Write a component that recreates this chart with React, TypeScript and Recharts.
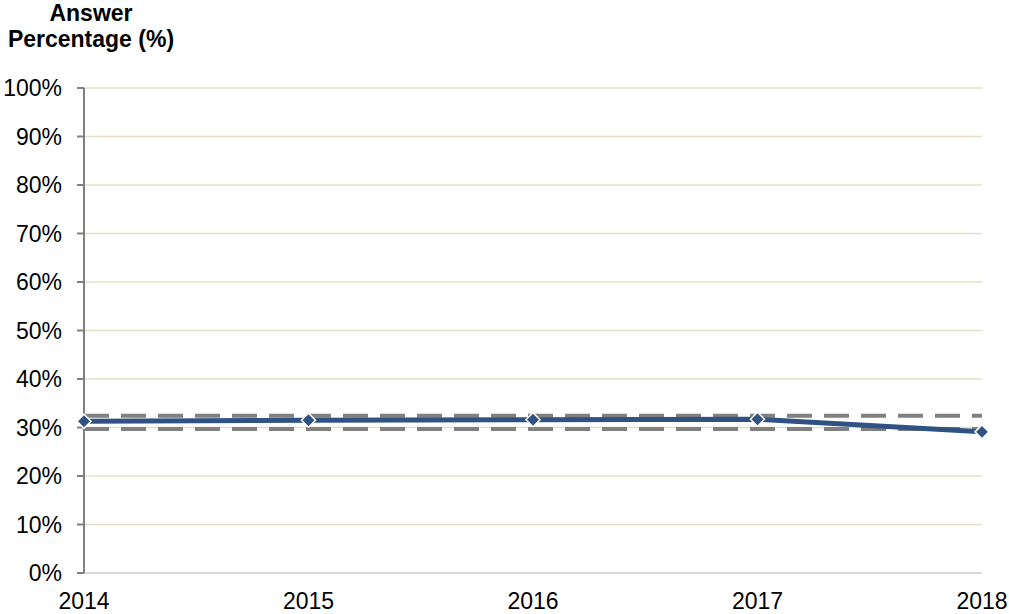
import React from 'react';
import { LineChart, Line, XAxis, YAxis, CartesianGrid } from 'recharts';

const years = ['2014', '2015', '2016', '2017', '2018'];
const answerPct = [31.3, 31.5, 31.6, 31.7, 29.1];
const upperBound = [32.4, 32.4, 32.4, 32.4, 32.4];
const lowerBound = [29.7, 29.7, 29.7, 29.7, 29.7];
const yTicks = [0, 10, 20, 30, 40, 50, 60, 70, 80, 90, 100];

const data = years.map((y, i) => ({
  year: y,
  value: answerPct[i],
  upper: upperBound[i],
  lower: lowerBound[i],
}));

const Diamond = (props: any) => {
  const { cx, cy } = props;
  if (cx == null || cy == null) return null;
  const r = 7;
  return (
    <path
      d={`M${cx},${cy - r} L${cx + r},${cy} L${cx},${cy + r} L${cx - r},${cy} Z`}
      fill="#2f5283"
      stroke="#ffffff"
      strokeWidth={1.5}
    />
  );
};

export default function App() {
  const font = 'Liberation Sans, Arial, sans-serif';
  return (
    <div style={{ position: 'absolute', left: 0, top: 0, width: 1009, height: 614, background: '#fff', fontFamily: font }}>
      <div
        style={{
          position: 'absolute',
          left: 0,
          top: 0,
          width: 182,
          textAlign: 'center',
          fontWeight: 'bold',
          fontSize: 23,
          lineHeight: '26px',
          color: '#000',
        }}
      >
        Answer
        <br />
        Percentage (%)
      </div>
      <LineChart
        width={1009}
        height={614}
        data={data}
        margin={{ top: 88, right: 27, left: 0, bottom: 0 }}
      >
        <CartesianGrid horizontal vertical={false} stroke="#e4e0c6" strokeWidth={1.5} />
        <XAxis
          dataKey="year"
          axisLine={{ stroke: '#d9d9d9', strokeWidth: 2 }}
          tickLine={false}
          height={41}
          tick={{ fill: '#000', fontSize: 23, fontFamily: font }}
          tickMargin={14}
          interval={0}
        />
        <YAxis
          domain={[0, 100]}
          ticks={yTicks}
          width={84}
          axisLine={{ stroke: '#808080', strokeWidth: 2 }}
          tickLine={{ stroke: '#808080', strokeWidth: 2 }}
          tickSize={7}
          tickMargin={15}
          tick={{ fill: '#000', fontSize: 23, fontFamily: font }}
          tickFormatter={(v: number) => `${v}%`}
          interval={0}
        />
        <Line
          dataKey="upper"
          stroke="#808080"
          strokeWidth={4}
          strokeDasharray="25 12"
          dot={false}
          activeDot={false}
          isAnimationActive={false}
        />
        <Line
          dataKey="lower"
          stroke="#808080"
          strokeWidth={4}
          strokeDasharray="25 12"
          dot={false}
          activeDot={false}
          isAnimationActive={false}
        />
        <Line
          dataKey="value"
          stroke="#2f5283"
          strokeWidth={5}
          dot={<Diamond />}
          activeDot={false}
          isAnimationActive={false}
        />
      </LineChart>
    </div>
  );
}
